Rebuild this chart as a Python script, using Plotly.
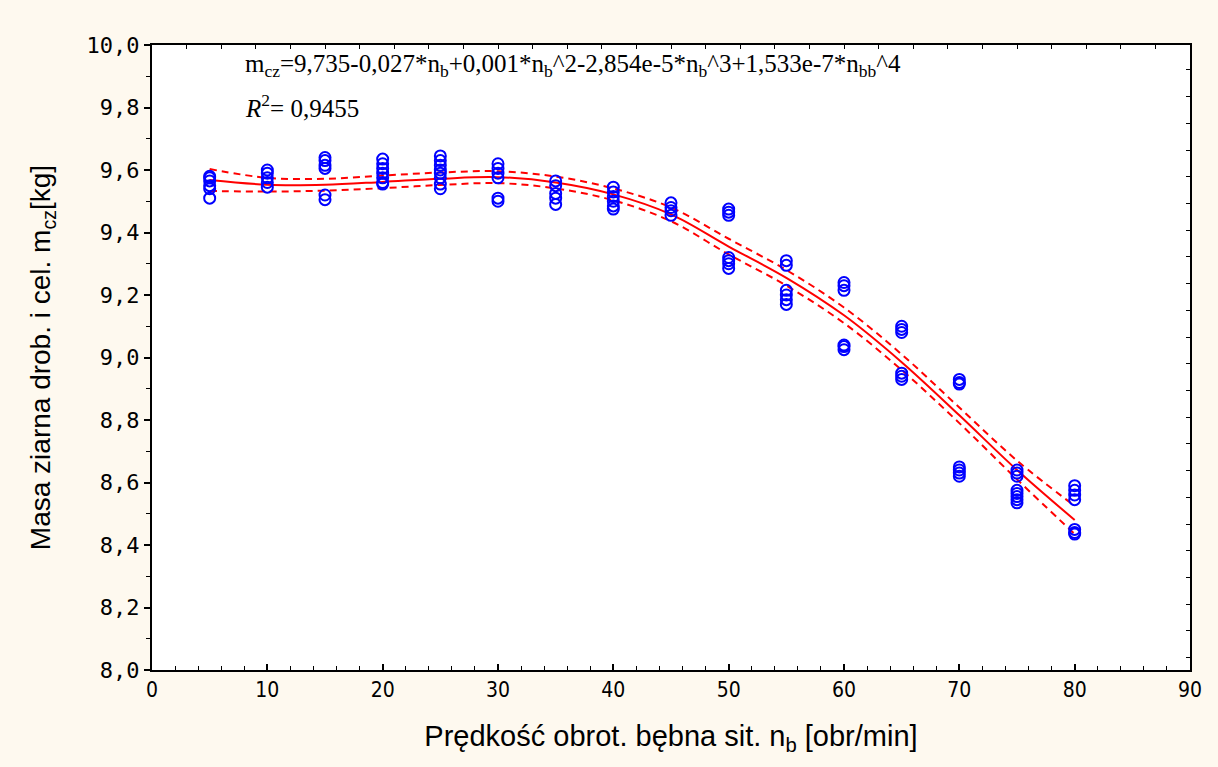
import plotly.graph_objects as go

# Drum speed levels [obr/min] and the measured masses at each level [kg]
speed_levels = [5, 10, 15, 20, 25, 30, 35, 40, 45, 50, 55, 60, 65, 70, 75, 80]
mass_by_speed = [
    [9.58, 9.575, 9.565, 9.55, 9.54, 9.51],
    [9.60, 9.59, 9.575, 9.56, 9.545],
    [9.64, 9.63, 9.615, 9.605, 9.52, 9.505],
    [9.635, 9.62, 9.605, 9.59, 9.575, 9.56, 9.555],
    [9.645, 9.63, 9.615, 9.60, 9.59, 9.575, 9.555, 9.54],
    [9.62, 9.605, 9.59, 9.575, 9.51, 9.50],
    [9.565, 9.55, 9.525, 9.51, 9.49],
    [9.545, 9.53, 9.515, 9.50, 9.485, 9.475],
    [9.495, 9.48, 9.47, 9.455],
    [9.475, 9.465, 9.455, 9.32, 9.31, 9.30, 9.285],
    [9.31, 9.295, 9.215, 9.20, 9.185, 9.17],
    [9.24, 9.23, 9.215, 9.04, 9.035, 9.025],
    [9.10, 9.09, 9.08, 8.95, 8.94, 8.93],
    [8.93, 8.92, 8.915, 8.65, 8.64, 8.63, 8.62],
    [8.64, 8.63, 8.62, 8.575, 8.565, 8.555, 8.545, 8.535],
    [8.59, 8.575, 8.56, 8.545, 8.45, 8.44, 8.435],
]

# Fitted 4th-degree curve and its 95% confidence band at each speed level
fit_mass = [9.568, 9.553, 9.553, 9.562, 9.572, 9.577, 9.560, 9.522,
            9.458, 9.355, 9.255, 9.135, 8.985, 8.815, 8.640, 8.480]
band_upper = [9.603, 9.575, 9.572, 9.582, 9.592, 9.596, 9.579, 9.541,
              9.480, 9.380, 9.280, 9.160, 9.010, 8.840, 8.670, 8.525]
band_lower = [9.533, 9.531, 9.534, 9.542, 9.552, 9.558, 9.541, 9.503,
              9.436, 9.330, 9.230, 9.110, 8.960, 8.790, 8.610, 8.435]

equation_text = ("m<sub>cz</sub>=9,735-0,027*n<sub>b</sub>+0,001*n<sub>b</sub>^2"
                 "-2,854e-5*n<sub>b</sub>^3+1,533e-7*n<sub>bb</sub>^4")
r2_text = "<i>R</i><sup>2</sup>= 0,9455"
x_title = "Prędkość obrot. bębna sit. n<sub>b</sub> [obr/min]"
y_title = "Masa ziarna drob. i cel. m<sub>cz</sub>[kg]"

pts_x = [s for s, vals in zip(speed_levels, mass_by_speed) for _ in vals]
pts_y = [v for vals in mass_by_speed for v in vals]

RED = "#FF0000"
BLUE = "#0000FF"
BG = "#FEF9EF"

fig = go.Figure()

fig.add_trace(go.Scatter(
    x=speed_levels, y=band_upper, mode="lines",
    line=dict(color=RED, width=2, dash="7px,5px", shape="spline", smoothing=1.0),
    hoverinfo="skip"))
fig.add_trace(go.Scatter(
    x=speed_levels, y=band_lower, mode="lines",
    line=dict(color=RED, width=2, dash="7px,5px", shape="spline", smoothing=1.0),
    hoverinfo="skip"))
fig.add_trace(go.Scatter(
    x=speed_levels, y=fit_mass, mode="lines",
    line=dict(color=RED, width=2, shape="spline", smoothing=1.0)))
fig.add_trace(go.Scatter(
    x=pts_x, y=pts_y, mode="markers",
    marker=dict(symbol="circle-open", size=11, color=BLUE, line=dict(width=2, color=BLUE))))

# ghost trace so the top and right frame axes exist
fig.add_trace(go.Scatter(x=[None], y=[None], xaxis="x2", yaxis="y2", showlegend=False))

tick_font_y = dict(family="DejaVu Sans Mono", size=22, color="black")
tick_font_x = dict(family="Liberation Sans Narrow, DejaVu Sans Condensed, Liberation Sans",
                   size=21, color="black")

fig.update_layout(
    width=1218, height=767,
    margin=dict(l=152, r=28, t=45, b=97),
    paper_bgcolor=BG, plot_bgcolor="white",
    showlegend=False,
    separators=",.",
    xaxis=dict(
        range=[0, 90], dtick=10, tick0=0,
        showgrid=False, zeroline=False,
        showline=True, linecolor="black", linewidth=2,
        ticks="inside", ticklen=6, tickwidth=1.5, tickcolor="black",
        minor=dict(dtick=2, ticks="inside", ticklen=4, tickwidth=1.2, tickcolor="black"),
        tickfont=tick_font_x,
        title=dict(text=x_title, standoff=24,
                   font=dict(family="Liberation Sans Narrow, Liberation Sans", size=29, color="black")),
    ),
    yaxis=dict(
        range=[8.0, 10.0], dtick=0.2, tick0=8.0, tickformat=".1f",
        showgrid=False, zeroline=False,
        showline=True, linecolor="black", linewidth=2,
        ticks="outside", ticklen=6, tickwidth=1.5, tickcolor="black",
        minor=dict(dtick=0.1, ticks="outside", ticklen=4, tickwidth=1.2, tickcolor="black"),
        tickfont=tick_font_y,
        title=dict(text=y_title, standoff=28,
                   font=dict(family="Liberation Sans", size=28, color="black")),
    ),
    xaxis2=dict(
        overlaying="x", side="top", range=[0, 90], dtick=3, tick0=0,
        showgrid=False, zeroline=False, showticklabels=False,
        showline=True, linecolor="black", linewidth=2,
        ticks="inside", ticklen=4, tickwidth=1.2, tickcolor="black",
    ),
    yaxis2=dict(
        overlaying="y", side="right", range=[8.0, 10.0], dtick=0.0855, tick0=9.664,
        showgrid=False, zeroline=False, showticklabels=False,
        showline=True, linecolor="black", linewidth=2,
        ticks="inside", ticklen=4, tickwidth=1.2, tickcolor="black",
    ),
)

fig.add_annotation(
    x=0.088, y=0.968, xref="paper", yref="paper", xanchor="left", yanchor="middle",
    text=equation_text, showarrow=False,
    font=dict(family="Liberation Serif", size=25, color="black"))
fig.add_annotation(
    x=0.088, y=0.902, xref="paper", yref="paper", xanchor="left", yanchor="middle",
    text=r2_text, showarrow=False,
    font=dict(family="Liberation Serif", size=25, color="black"))

fig.write_html("out.html")
